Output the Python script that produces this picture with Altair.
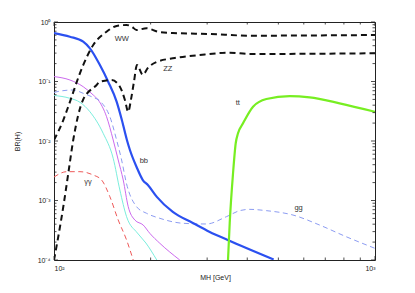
import altair as alt
import pandas as pd

# ---------------- data ----------------
bb_mh = [100, 112.1, 123.3, 129.4, 139.0, 147.5, 156.7, 162.7, 168.7, 172.4, 180.8, 189.1, 196.1, 209.1, 234.5, 270.6, 305.6, 347.6, 483.4]
bb_br = [0.653, 0.566, 0.467, 0.361, 0.189, 0.0993, 0.0458, 0.0225, 0.0104, 0.00706, 0.00366, 0.00221, 0.00182, 0.00115, 0.000641, 0.000419, 0.000296, 0.000217, 0.000102]

ww_mh = [100, 106.9, 109.8, 123.3, 132.5, 145.8, 156.7, 168.3, 174.5, 180.8, 194.2, 211.1, 234.5, 305.6, 407, 1000]
ww_br = [0.0104, 0.0225, 0.0332, 0.189, 0.41, 0.687, 0.86, 0.89, 0.84, 0.734, 0.784, 0.687, 0.653, 0.628, 0.589, 0.605]

zz_mh = [100, 103.1, 106.9, 110.8, 114.8, 123.1, 135.8, 139.0, 151.2, 160.4, 166.3, 170.3, 173.6, 177.4, 181.3, 189.1, 196.1, 208.7, 237.8, 284.5, 352.7, 407, 1000]
zz_br = [1.0e-4, 2.46e-4, 7.87e-4, 2.87e-3, 0.0104, 0.0489, 0.0873, 0.0993, 0.106, 0.0818, 0.0489, 0.031, 0.0489, 0.098, 0.189, 0.129, 0.169, 0.213, 0.248, 0.279, 0.305, 0.29, 0.298]

tt_mh = [348.4, 352.7, 361.2, 368.3, 374.3, 388, 416.9, 458.8, 542.2, 625.8, 775.6, 1000]
tt_br = [1.0e-4, 4.19e-4, 2.87e-3, 9.25e-3, 0.01346, 0.0198, 0.0377, 0.0508, 0.057, 0.0542, 0.043, 0.031]

gg_mh = [100, 104.4, 114.8, 123.3, 131, 140, 149.3, 156.7, 162.4, 168.3, 180.8, 194.2, 213.6, 252.5, 298.5, 344.5, 378.9, 407, 458.8, 555, 672, 813.6, 1000]
gg_br = [0.0655, 0.0689, 0.072, 0.0633, 0.0555, 0.0452, 0.0256, 0.0104, 0.0048, 0.0019, 7.87e-4, 6.1e-4, 5.02e-4, 4.14e-4, 4.03e-4, 5.35e-4, 6.75e-4, 7.1e-4, 6.75e-4, 5.7e-4, 3.87e-4, 2.46e-4, 1.57e-4]

tau_mh = [100, 112.1, 123.3, 132.5, 137.3, 145.8, 152.9, 158.5, 164.3, 170.3, 178.6, 189.6, 198.8, 213.6, 246.5]
tau_br = [0.121, 0.106, 0.0818, 0.0593, 0.0489, 0.0256, 0.0104, 0.0048, 0.00221, 7.87e-4, 4.7e-4, 3.87e-4, 2.81e-4, 1.91e-4, 1.0e-4]

cc_mh = [100, 112.1, 120.5, 129.4, 142.3, 152.9, 160.4, 168.3, 181.9, 193.3, 209]
cc_br = [0.0582, 0.0522, 0.0447, 0.031, 0.01346, 0.00512, 0.0015, 5.35e-4, 2.84e-4, 1.93e-4, 1.0e-4]

aa_mh = [100, 109.5, 120.5, 132.5, 140.7, 149.3, 158.5, 168.3, 176.5]
aa_br = [0.00248, 0.00305, 0.00305, 0.00268, 0.00221, 0.00116, 4.7e-4, 2.17e-4, 1.0e-4]

lbl_text = ["WW", "ZZ", "tt", "bb", "γγ", "gg"]
lbl_mh = [162.7, 226.2, 373.5, 190.5, 127.6, 578]
lbl_br = [0.518, 0.162, 0.0435, 0.00461, 0.00205, 7.48e-4]

x_major = [100, 1000]
x_minor = [200, 300, 400, 500, 600, 700, 800, 900]
y_major = [1e-4, 1e-3, 1e-2, 1e-1, 1]
y_minor = [m * 10.0 ** k for k in range(-4, 0) for m in range(2, 10)]

# ---------------- layout / style ----------------
W, H = 321, 238
FONT = "Liberation Sans"
xs = alt.Scale(type="log", domain=[100, 1000], nice=False)
ys = alt.Scale(type="log", domain=[1e-4, 1], nice=False)

x_axis = alt.Axis(
    values=x_major, labelExpr="datum.value < 500 ? '10²' : '10³'",
    ticks=False, domain=False, grid=False, labelPadding=4,
    labelFont=FONT, labelFontSize=7, labelColor="#222",
    title="MH [GeV]", titleFont=FONT, titleFontSize=7, titleFontWeight="normal",
    titleColor="#222", titleX=161, titleY=17, titleBaseline="middle", titleAlign="center",
)
y_axis = alt.Axis(
    values=y_major,
    labelExpr="datum.value > 0.5 ? '10⁰' : datum.value > 0.05 ? '10⁻¹' : datum.value > 0.005 ? '10⁻²' : datum.value > 0.0005 ? '10⁻³' : '10⁻⁴'",
    ticks=False, domain=False, grid=False, labelPadding=4,
    labelFont=FONT, labelFontSize=7, labelColor="#222",
    title="BR(H)", titleFont=FONT, titleFontSize=7, titleFontWeight="normal",
    titleColor="#222", titleX=-37, titleY=119, titleBaseline="middle", titleAlign="center",
)

styles = [
    # name, mh, br, color, width, dash
    ("cc", cc_mh, cc_br, "#7aeedd", 1.0, None),
    ("tau", tau_mh, tau_br, "#cc6aee", 1.0, None),
    ("aa", aa_mh, aa_br, "#ee5a5a", 1.0, [5, 3.5]),
    ("gg", gg_mh, gg_br, "#8c9cf2", 1.0, [5, 3.5]),
    ("bb", bb_mh, bb_br, "#2b50f0", 2.2, None),
    ("tt", tt_mh, tt_br, "#77ee22", 2.2, None),
    ("WW", ww_mh, ww_br, "#111111", 2.0, [6, 4]),
    ("ZZ", zz_mh, zz_br, "#111111", 2.0, [6, 4]),
]

X = lambda f: alt.X(f, type="quantitative", scale=xs, axis=x_axis)
Y = lambda f: alt.Y(f, type="quantitative", scale=ys, axis=y_axis)

layers = []
for name, mh, br, col, sw, dash in styles:
    df = pd.DataFrame({"mh": mh, "br": br})
    kw = dict(color=col, strokeWidth=sw, clip=True, interpolate="monotone")
    if dash:
        kw["strokeDash"] = dash
    layers.append(alt.Chart(df).mark_line(**kw).encode(x=X("mh"), y=Y("br")))


def yticks(vals, x0, x1):
    return alt.Chart(pd.DataFrame({"v": vals})).mark_rule(color="#222", strokeWidth=0.8).encode(
        y=Y("v"), x=alt.value(x0), x2=alt.value(x1))


def xticks(vals, y0, y1):
    return alt.Chart(pd.DataFrame({"v": vals})).mark_rule(color="#222", strokeWidth=0.8).encode(
        x=X("v"), y=alt.value(y0), y2=alt.value(y1))


layers += [
    yticks(y_major, 0, 4), yticks(y_minor, 0, 2.5),
    yticks(y_major, W - 4, W), yticks(y_minor, W - 2.5, W),
    xticks(x_major, H, H - 4), xticks(x_minor, H, H - 2.5),
    xticks(x_major, 0, 4), xticks(x_minor, 0, 2.5),
]

labels = alt.Chart(pd.DataFrame({"t": lbl_text, "mh": lbl_mh, "br": lbl_br})).mark_text(
    font=FONT, fontSize=7.5, color="#333", align="center", baseline="middle"
).encode(x=X("mh"), y=Y("br"), text="t:N")
layers.append(labels)

chart = alt.layer(*layers).properties(
    width=W, height=H,
    autosize=alt.AutoSizeParams(type="none"),
    padding={"left": 46, "top": 14, "right": 32, "bottom": 25},
    background="white",
).configure_view(stroke="#222", strokeWidth=1)

chart.save("out.html", embed_options={"renderer": "svg", "actions": False})
